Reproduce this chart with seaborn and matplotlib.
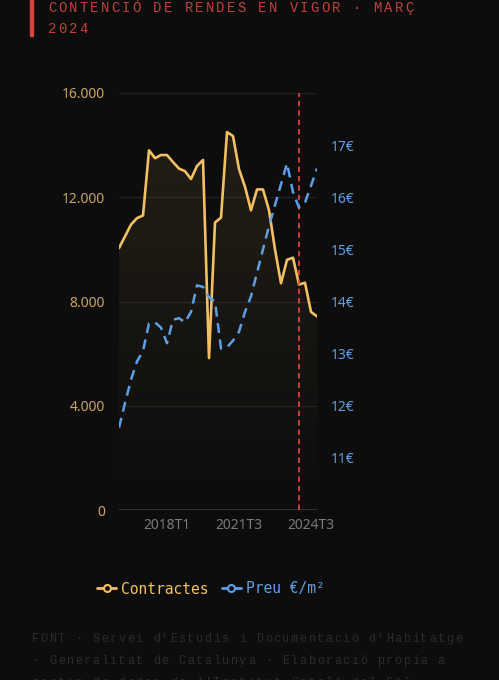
import numpy as np
import matplotlib
matplotlib.use("Agg")
import matplotlib.pyplot as plt
from matplotlib.lines import Line2D
from matplotlib.patches import Rectangle
from matplotlib.colors import LinearSegmentedColormap
import seaborn as sns

# contractes de lloguer per trimestre i preu mitjà (€/m2)
contractes = [10050, 10500, 10950, 11200, 11300, 13800, 13500, 13620, 13620, 13350,
              13100, 13000, 12700, 13200, 13430, 5830, 11030, 11220, 14500, 14350,
              13080, 12400, 11500, 12300, 12300, 11500, 10000, 8700, 9600, 9680,
              8650, 8720, 7600, 7430]
preu_m2 = [11.58, 12.05, 12.50, 12.85, 13.05, 13.58, 13.60, 13.50, 13.20, 13.65,
           13.68, 13.60, 13.80, 14.31, 14.28, 14.08, 14.00, 13.10, 13.12, 13.25,
           13.42, 13.80, 14.10, 14.55, 15.00, 15.45, 15.85, 16.25, 16.65, 16.10,
           15.80, 15.90, 16.22, 16.55]
etiquetes_x = ["2018T1", "2021T3", "2024T3"]
pos_etiquetes = [8, 20, 32]
pos_contencio = 30  # març 2024

ticks_esq = [0, 4000, 8000, 12000, 16000]
etiq_esq = ["0", "4.000", "8.000", "12.000", "16.000"]
ticks_dre = [11, 12, 13, 14, 15, 16, 17]
etiq_dre = [f"{t}€" for t in ticks_dre]

titol = ["CONTENCIÓ DE RENDES EN VIGOR · MARÇ", "2024"]
font = ["FONT · Servei d'Estudis i Documentació d'Habitatge",
        "· Generalitat de Catalunya · Elaboració pròpia a",
        "partir de dades de l'Institut Català del Sòl"]

fons = "#0d0d0d"
groc = "#f2c063"
blau = "#5d9fe6"
vermell = "#d9443c"

W, H = 499, 680
sns.set_style("dark")
plt.rcParams["font.family"] = ["Noto Sans", "DejaVu Sans"]

fig = plt.figure(figsize=(W / 100, H / 100), dpi=100, facecolor=fons)
ax = fig.add_axes([119 / W, 1 - 510 / H, (317 - 119) / W, (510 - 93) / H])
ax.set_facecolor(fons)
x = np.arange(len(contractes))

sns.lineplot(x=x, y=contractes, ax=ax, color=groc, linewidth=1.9, zorder=3)

# farciment amb degradat sota la corba
area = ax.fill_between(x, contractes, 0, color="none", linewidth=0)
degradat = LinearSegmentedColormap.from_list("g", [(0.95, 0.75, 0.39, 0.0),
                                                   (0.95, 0.75, 0.39, 0.11)])
img = ax.imshow(np.linspace(0, 1, 256).reshape(-1, 1), cmap=degradat, aspect="auto",
                origin="lower", extent=[0, len(contractes) - 1, 0, 16000], zorder=1)
img.set_clip_path(area.get_paths()[0], transform=ax.transData)

ax.axvline(pos_contencio, color=vermell, linewidth=1.3, dashes=(3, 2.2), zorder=5)

ax.set_xlim(0, len(contractes) - 1)
ax.set_ylim(0, 16000)
ax.set_yticks(ticks_esq)
ax.set_yticklabels(etiq_esq)
ax.set_xticks(pos_etiquetes)
ax.set_xticklabels(etiquetes_x)
ax.grid(False)
for t in ticks_esq[1:]:
    ax.axhline(t, color="#202020", linewidth=1, zorder=0)
ax.axhline(0, color="#3a3a3a", linewidth=1.2, zorder=2)
ax.tick_params(axis="y", colors="#c9a462", labelsize=10, length=0, pad=10)
ax.tick_params(axis="x", colors="#7a7a7a", labelsize=10, length=0, pad=6)
ax.set_xlabel("")
ax.set_ylabel("")
for s in ax.spines.values():
    s.set_visible(False)

ax2 = ax.twinx()
sns.lineplot(x=x, y=preu_m2, ax=ax2, color=blau, linewidth=1.8, zorder=4)
ax2.lines[0].set_dashes((4, 2.6))
ax2.set_ylim(10, 18)
ax2.set_yticks(ticks_dre)
ax2.set_yticklabels(etiq_dre)
ax2.grid(False)
ax2.tick_params(axis="y", colors=blau, labelsize=10, length=0, pad=10)
ax2.set_ylabel("")
for s in ax2.spines.values():
    s.set_visible(False)

# titol amb lletres espaiades
def text_espaiat(txt, x0, y, pas, **kw):
    for i, c in enumerate(txt):
        fig.text((x0 + i * pas) / W, 1 - y / H, c, ha="left", va="center", **kw)

fig.add_artist(Rectangle((30 / W, 1 - 36 / H), 3 / W, 36 / H, color=vermell,
                         transform=fig.transFigure))
text_espaiat(titol[0], 48, 8, 10.5, color="#c2413b", family="Liberation Mono", fontsize=10)
text_espaiat(titol[1], 48, 29, 10.5, color="#c2413b", family="Liberation Mono", fontsize=10)

for i, linia in enumerate(font):
    text_espaiat(linia, 32, 639 + i * 22, 8.63, color="#2c2c2c",
                 family="Liberation Mono", fontsize=8.5)

handles = [Line2D([], [], color=groc, marker="o", markersize=5, markerfacecolor=fons,
                  markeredgewidth=1.5, linewidth=2),
           Line2D([], [], color=blau, marker="o", markersize=5, markerfacecolor=fons,
                  markeredgewidth=1.5, linewidth=2)]
leg = fig.legend(handles, ["Contractes", "Preu €/m²"], loc="center",
                 bbox_to_anchor=(211 / W, 1 - 589 / H), ncol=2, frameon=False,
                 prop={"family": "DejaVu Sans Mono", "size": 10.5},
                 handlelength=1.3, handletextpad=0.35, columnspacing=0.9)
for txt, c in zip(leg.get_texts(), [groc, blau]):
    txt.set_color(c)

fig.savefig("out.png", dpi=100, facecolor=fons)
